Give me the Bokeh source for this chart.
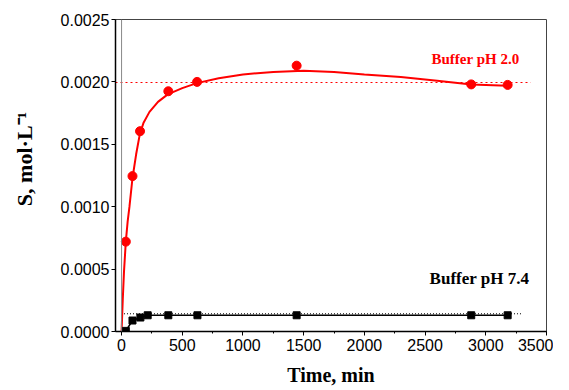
from bokeh.plotting import figure
from bokeh.models import (Range1d, SingleIntervalTicker, PrintfTickFormatter, Label, Span)
from bokeh.embed import file_html
from bokeh.resources import INLINE

# Buffer pH 2.0 (red) measured points
red_t = [35, 90, 152, 385, 622, 1442, 2880, 3180]
red_s = [0.00072, 0.001245, 0.001605, 0.001925, 0.00200, 0.00213, 0.00198, 0.001976]
# red fitted curve
red_fit_t = [0, 10, 20, 35, 50, 65, 90, 120, 150, 180, 230, 300, 380, 500, 620, 800, 1000,
             1250, 1500, 1750, 2000, 2300, 2600, 2880, 3180]
red_fit_s = [0, 0.00026, 0.00048, 0.00072, 0.00088, 0.00100, 0.00123, 0.00142, 0.00158,
             0.00167, 0.00176, 0.00184, 0.00190, 0.00195, 0.00199, 0.00203, 0.00206,
             0.00208, 0.00209, 0.00208, 0.00206, 0.00204, 0.00201, 0.00198, 0.00197]
red_plateau = 0.001995
red_plateau_t = [-50, 3370]

# Buffer pH 7.4 (black)
blk_t = [0, 35, 90, 155, 215, 385, 625, 1442, 2880, 3180]
blk_s = [0.0, 0.000005, 0.000088, 0.000112, 0.00013, 0.00013, 0.00013, 0.00013, 0.00013, 0.00013]
blk_mark_t = blk_t[1:]
blk_mark_s = blk_s[1:]
blk_plateau = 0.000142
blk_plateau_t = [20, 3290]

x_ticks_interval = 500
y_ticks_interval = 0.0005

p = figure(width=553, height=388, output_backend="svg", toolbar_location=None,
           x_range=Range1d(-50, 3500), y_range=Range1d(0, 0.0025),
           min_border_left=115, min_border_right=7, min_border_top=19, min_border_bottom=57)
p.grid.visible = False
p.outline_line_color = "#444444"
p.outline_line_width = 1
p.background_fill_color = "white"
p.border_fill_color = "white"

# vertical gray line at x = 0
p.add_layout(Span(location=0, dimension="height", line_color="#888888", line_width=1))

# plateau dotted lines
p.line(red_plateau_t, [red_plateau, red_plateau], line_color="red", line_dash="2 3", line_width=1.2)
p.line(blk_plateau_t, [blk_plateau, blk_plateau], line_color="black", line_dash="1 2", line_width=1)

# red fit + points
p.line(red_fit_t, red_fit_s, line_color="red", line_width=2)
p.scatter(red_t, red_s, marker="circle", size=9, fill_color="red", line_color="red")

# black line + squares
p.line(blk_t, blk_s, line_color="black", line_width=1.6)
p.scatter(blk_mark_t, blk_mark_s, marker="square", size=7, fill_color="black", line_color="black")

# axes
xa = p.xaxis[0]
xa.ticker = SingleIntervalTicker(interval=x_ticks_interval, num_minor_ticks=2)
xa.axis_label = "Time, min"
xa.axis_label_standoff = 10
xa.axis_label_text_font_size = "20px"

ya = p.yaxis[0]
ya.ticker = SingleIntervalTicker(interval=y_ticks_interval, num_minor_ticks=0)
ya.formatter = PrintfTickFormatter(format="%.4f")
ya.axis_label = "\u2003\u2002S, mol\u00b7L\u207b\u00b9"
ya.axis_label_standoff = 21
ya.axis_label_text_font_size = "22px"

for ax in (xa, ya):
    ax.axis_label_text_font = "Liberation Serif"
    ax.axis_label_text_font_style = "bold"
    ax.axis_label_text_color = "black"
    ax.major_label_text_font = "Liberation Sans"
    ax.major_label_text_font_size = "16px"
    ax.major_label_text_color = "black"
    ax.axis_line_color = "black"
    ax.axis_line_width = 1.5
    ax.major_tick_line_color = "black"
    ax.minor_tick_line_color = "black"
    ax.major_tick_in = 0
    ax.major_tick_out = 4
    ax.minor_tick_in = 0
    ax.minor_tick_out = 2
xa.major_label_standoff = 3
ya.major_label_standoff = 2

# series labels
p.add_layout(Label(x=2553, y=0.002184, text="Buffer pH 2.0", text_color="red",
                   text_font="Liberation Serif", text_font_style="bold",
                   text_font_size="15px", text_baseline="alphabetic"))
p.add_layout(Label(x=2537, y=0.000424, text="Buffer pH 7.4", text_color="black",
                   text_font="Liberation Serif", text_font_style="bold",
                   text_font_size="17px", text_baseline="alphabetic"))

open("out.html", "w").write(file_html(p, INLINE))
